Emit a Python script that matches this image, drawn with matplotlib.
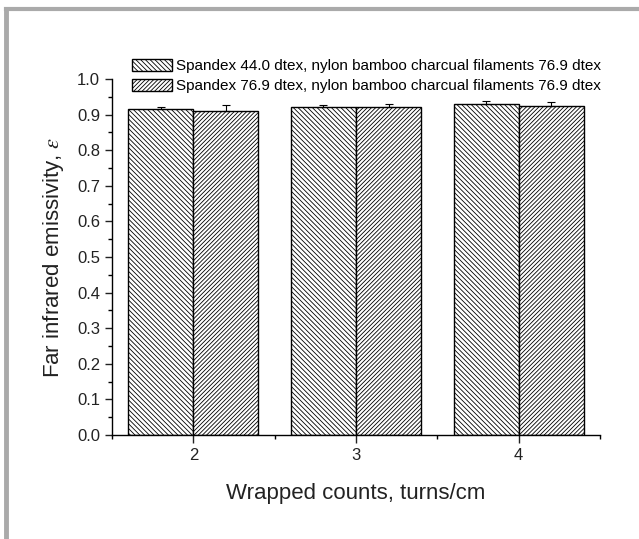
import matplotlib
matplotlib.use("Agg")
import matplotlib.pyplot as plt
from matplotlib.lines import Line2D
from matplotlib.ticker import MultipleLocator, FixedLocator
import numpy as np

plt.rcParams["font.family"] = ["Liberation Sans", "DejaVu Sans"]
plt.rcParams["mathtext.fontset"] = "stix"
plt.rcParams["hatch.linewidth"] = 0.6

counts = [2, 3, 4]
emis_44 = [0.916, 0.921, 0.931]
err_44 = [0.006, 0.006, 0.006]
emis_769 = [0.911, 0.921, 0.925]
err_769 = [0.016, 0.009, 0.009]
labels = ["Spandex 44.0 dtex, nylon bamboo charcual filaments 76.9 dtex",
          "Spandex 76.9 dtex, nylon bamboo charcual filaments 76.9 dtex"]

fig = plt.figure(figsize=(6.39, 5.39), dpi=100)
ax = fig.add_axes([112/639, 1-435/539, 488/639, 356/539])

x = np.array(counts, dtype=float)
w = 0.4
ax.bar(x - w/2, emis_44, w, color="white", edgecolor="black", linewidth=1.0,
       hatch="\\" * 7, label=labels[0])
ax.bar(x + w/2, emis_769, w, color="white", edgecolor="black", linewidth=1.0,
       hatch="/" * 8, label=labels[1])
ax.errorbar(x - w/2, emis_44, yerr=[np.zeros(3), err_44], fmt="none",
            ecolor="black", elinewidth=0.8, capsize=3, capthick=0.8)
ax.errorbar(x + w/2, emis_769, yerr=[np.zeros(3), err_769], fmt="none",
            ecolor="black", elinewidth=0.8, capsize=3, capthick=0.8)

ax.set_xlim(1.5, 4.5)
ax.set_ylim(0, 1.0)
ax.xaxis.set_major_locator(FixedLocator(counts))
ax.xaxis.set_minor_locator(FixedLocator([1.5, 2.5, 3.5, 4.5]))
ax.yaxis.set_major_locator(MultipleLocator(0.1))
ax.yaxis.set_minor_locator(MultipleLocator(0.05))
ax.yaxis.set_major_formatter(matplotlib.ticker.FormatStrFormatter("%.1f"))
ax.tick_params(which="major", length=5, width=1, labelsize=12, colors="#222222")
ax.tick_params(which="minor", length=3, width=1)
ax.tick_params(axis="x", which="major", length=6)
for s in ["top", "right"]:
    ax.spines[s].set_visible(False)
for s in ["left", "bottom"]:
    ax.spines[s].set_linewidth(1.0)

ax.set_xlabel("Wrapped counts, turns/cm", fontsize=16, color="#222222", labelpad=14)
ax.set_ylabel("Far infrared emissivity, $\\varepsilon$", fontsize=16, color="#222222", labelpad=8)

ax.legend(loc="upper left", bbox_to_anchor=(132/639, 1-59/539),
          bbox_transform=fig.transFigure, frameon=False, fontsize=11,
          handlelength=2.6, handleheight=0.8, handletextpad=0.3,
          labelspacing=0.4, borderpad=0, borderaxespad=0)

# grey page frame
fig.add_artist(Line2D([5.5/639, 1], [1-9/539, 1-9/539], color="#aaaaaa", lw=3, transform=fig.transFigure))
fig.add_artist(Line2D([5.5/639, 5.5/639], [0, 1-9/539], color="#aaaaaa", lw=3.5, transform=fig.transFigure))

plt.savefig("out.png", dpi=100)
